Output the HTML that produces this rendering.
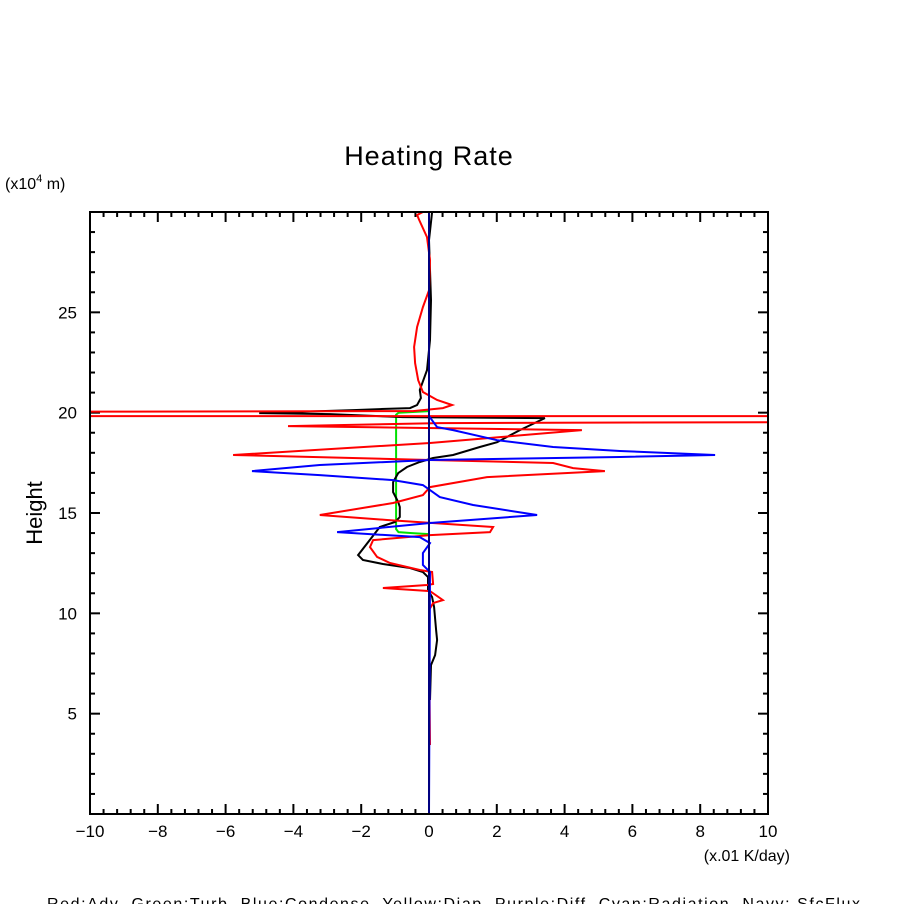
<!DOCTYPE html>
<html><head><meta charset="utf-8"><style>
body{margin:0;background:#fff;}
svg{display:block;font-family:"Liberation Sans",sans-serif;}
</style></head><body>
<svg id="chart" width="904" height="904" viewBox="0 0 904 904">
<text x="429" y="165" text-anchor="middle" font-size="27" letter-spacing="1">Heating Rate</text>
<text x="5" y="189" font-size="16">(x10<tspan font-size="11" dy="-7">4</tspan><tspan dy="7"> m)</tspan></text>
<text transform="translate(42,513) rotate(-90)" text-anchor="middle" font-size="22">Height</text>
<text x="790" y="861" text-anchor="end" font-size="16">(x.01 K/day)</text>
<text x="47" y="909" font-size="16" textLength="813" lengthAdjust="spacing" xml:space="preserve" style="white-space:pre">Red:Adv  Green:Turb  Blue:Condense  Yellow:Diap  Purple:Diff  Cyan:Radiation  Navy: SfcFlux</text>
<g id="ticks"></g>
<g id="series"></g>
<rect x="90" y="212" width="678" height="602" fill="none" stroke="#000" stroke-width="2"/>
</svg>
<script>
const xTickLabels=[-10,-8,-6,-4,-2,0,2,4,6,8,10];
const yTickLabels=[5,10,15,20,25];
const redX=[-0.18,-0.35,-0.29,-0.06,0.03,0,-0.18,-0.35,-0.44,-0.41,-0.32,-0.18,0.24,0.68,0.41,-0.47,-11,-11,11,11,0.32,-4.16,4.51,2.09,0.03,-5.78,0.03,3.66,4.25,5.19,1.71,0.03,-0.18,-1.06,-3.22,-1.24,1.89,1.8,0.03,-1.65,-1.74,-1.53,-1.15,-0.27,0.09,0.12,-0.06,-1.36,0.03,0.41,0.12,0,0,0.03];
const redY=[30,29.85,29.6,28.75,27.6,26.1,25.26,24.27,23.27,22.47,21.62,21.03,20.63,20.38,20.23,20.08,20.05,19.83,19.83,19.53,19.48,19.33,19.13,18.78,18.49,17.89,17.64,17.49,17.24,17.09,16.79,16.29,15.89,15.5,14.9,14.65,14.3,14.05,13.9,13.65,13.3,12.81,12.51,12.16,12.06,11.46,11.41,11.26,11.11,10.66,10.51,10.16,9.17,3.44];
const blackX=[0.09,0,0.06,0.03,-0.06,-0.27,-0.24,-0.35,-0.56,-1.45,-2.24,-5.01,-2.92,-0.77,3.42,2.68,2.01,1.5,0.71,0.12,-0.27,-0.65,-0.91,-1.06,-1.06,-0.91,-0.86,-0.86,-1.0,-1.45,-1.68,-2.09,-1.95,-1.36,-0.56,-0.18,-0.03,-0.03,0.09,0.15,0.21,0.24,0.18,0.06,0.03];
const blackY=[30,28.6,25.6,23.62,22.12,21.13,20.73,20.38,20.23,20.18,20.13,19.98,19.93,19.78,19.73,19.13,18.53,18.29,17.89,17.74,17.54,17.29,16.99,16.54,16.04,15.55,15.3,14.8,14.55,14.3,13.8,12.9,12.66,12.46,12.26,12.06,11.81,11.16,10.81,10.31,9.17,8.67,7.92,7.42,5.68];
const blueX=[0,0,0.24,0.71,2.01,3.66,5.63,8.44,5.63,0.03,-3.22,-5.22,-3.22,-1.06,-0.18,0.03,0.32,1.3,3.19,0.03,-2.71,-0.27,0.03,-0.18,-0.18,0.03,0];
const blueY=[30,19.83,19.28,19.13,18.63,18.29,18.09,17.89,17.79,17.64,17.39,17.09,16.89,16.64,16.39,16.14,15.79,15.4,14.9,14.5,14.05,13.8,13.5,13.0,12.41,12.06,0];
const greenX=[0,-0.9,-0.97,-0.97,-0.9,-0.5,0];
const greenY=[20.08,20.0,19.9,14.2,14.05,14.0,13.95];
const navyX=[0,0];
const navyY=[0,30];

const L=90,R=768,T=212,B=814,XMIN=-10,XMAX=10,YMIN=0,YMAX=30;
const sx=v=>L+(v-XMIN)/(XMAX-XMIN)*(R-L);
const sy=v=>B-(v-YMIN)/(YMAX-YMIN)*(B-T);
const NS='http://www.w3.org/2000/svg';
const tg=document.getElementById('ticks');
function line(g,x1,y1,x2,y2,name){const l=document.createElementNS(NS,'line');
l.setAttribute('x1',x1);l.setAttribute('y1',y1);l.setAttribute('x2',x2);l.setAttribute('y2',y2);
l.setAttribute('stroke','#000');l.setAttribute('stroke-width','2');


g.appendChild(l);}
for(let i=0;i<=50;i++){const v=XMIN+i*0.4;const x=sx(v);const len=(i%5===0)?10:5;
line(tg,x,B,x,B-len,'x-tick');line(tg,x,T,x,T+len,'x-tick-top');}
for(let v=1;v<30;v++){const y=sy(v);const len=(v%5===0)?10:5;
line(tg,L,y,L+len,y,'y-tick');line(tg,R,y,R-len,y,'y-tick-right');}
xTickLabels.forEach(v=>{const t=document.createElementNS(NS,'text');
t.setAttribute('x',sx(v));t.setAttribute('y',837);t.setAttribute('text-anchor','middle');t.setAttribute('font-size','17');
t.textContent=(v<0?'\u2212'+(-v):v);


tg.appendChild(t);});
yTickLabels.forEach(v=>{const t=document.createElementNS(NS,'text');
t.setAttribute('x',77);t.setAttribute('y',sy(v)+6);t.setAttribute('text-anchor','end');t.setAttribute('font-size','17');
t.textContent=v;


tg.appendChild(t);});
const sg=document.getElementById('series');
const clip=document.createElementNS(NS,'clipPath');clip.setAttribute('id','pc');
const cr=document.createElementNS(NS,'rect');cr.setAttribute('x',L);cr.setAttribute('y',T);cr.setAttribute('width',R-L);cr.setAttribute('height',B-T);
clip.appendChild(cr);sg.appendChild(clip);
function series(xs,ys,color,name){const p=document.createElementNS(NS,'polyline');
p.setAttribute('points',xs.map((v,i)=>sx(v).toFixed(1)+','+sy(ys[i]).toFixed(1)).join(' '));
p.setAttribute('fill','none');p.setAttribute('stroke',color);p.setAttribute('stroke-width','2');
p.setAttribute('clip-path','url(#pc)');


sg.appendChild(p);}
series(greenX,greenY,'#00e000','turb-line');
series(blackX,blackY,'#000000','total-line');
series(redX,redY,'#ff0000','adv-line');
series(blueX,blueY,'#0000ff','condense-line');
series(navyX,navyY,'#000080','sfcflux-line');
</script>
</body></html>
